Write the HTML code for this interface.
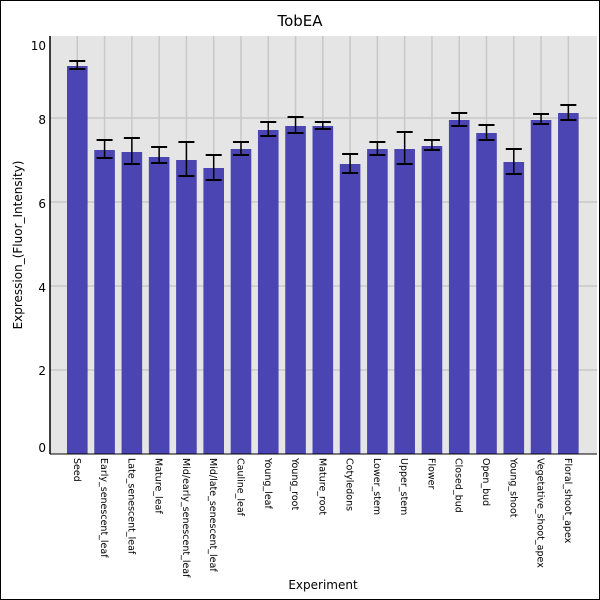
<!DOCTYPE html>
<html><head><meta charset="utf-8"><style>
html,body{margin:0;padding:0;background:#fff}
svg{display:block;font-family:"DejaVu Sans","Liberation Sans",sans-serif}
</style></head><body>
<svg width="600" height="600" viewBox="0 0 600 600" xmlns="http://www.w3.org/2000/svg">
<rect x="0.5" y="0.5" width="599" height="599" fill="#fff" stroke="#000"/>
<text x="300" y="26" text-anchor="middle" font-size="15">TobEA</text>
<rect x="50" y="36" width="547" height="418" fill="#e5e5e5"/>
<g id="grid" stroke="#c8c8c8" stroke-width="1.5"></g>
<g id="bars"></g>
<line x1="50" y1="36" x2="50" y2="454" stroke="#000" stroke-width="1.5"/>
<line x1="50" y1="454" x2="597" y2="454" stroke="#000" stroke-width="1"/>
<g font-size="12" text-anchor="end">
<text x="46" y="50">10</text>
<text x="46" y="124">8</text>
<text x="46" y="208">6</text>
<text x="46" y="292">4</text>
<text x="46" y="375">2</text>
<text x="46" y="452">0</text>
</g>
<text x="0" y="0" font-size="12" text-anchor="middle" transform="translate(22,245) rotate(-90)">Expression_(Fluor_Intensity)</text>
<text x="323" y="589" font-size="12" text-anchor="middle">Experiment</text>
<g id="labels" font-size="9.5"></g>
</svg>
<script>
var names=["Seed","Early_senescent_leaf","Late_senescent_leaf","Mature_leaf","Mid/early_senescent_leaf","Mid/late_senescent_leaf","Cauline_leaf","Young_leaf","Young_root","Mature_root","Cotyledons","Lower_stem","Upper_stem","Flower","Closed_bud","Open_bud","Young_shoot","Vegetative_shoot_apex","Floral_shoot_apex"];
var tops=[66,150,152,157,160,168,149,130,126,126,164,149,149,146,120,133,162,120,113];
var errs=[[61,69],[140,158],[138,164],[147,163],[142,176],[155,180],[142,155],[122,136],[117,133],[122,129],[154,173],[142,155],[132,164],[140,150],[113,126],[125,140],[149,174],[114,124],[105,120]];
var ns="http://www.w3.org/2000/svg";
function el(t,a,p){var e=document.createElementNS(ns,t);for(var k in a)e.setAttribute(k,a[k]);p.appendChild(e);return e;}
var g=document.getElementById("grid"),b=document.getElementById("bars"),l=document.getElementById("labels");
[118,202,286,370].forEach(function(y){el("line",{x1:50,x2:597,y1:y,y2:y},g);});
for(var i=0;i<19;i++){
 var cx=77.3+27.28*i;
 el("line",{x1:cx,x2:cx,y1:36,y2:454},g);
 el("rect",{x:cx-10.3,y:tops[i],width:20.6,height:454-tops[i],fill:"#4a45b2"},b);
 var e=errs[i];
 el("line",{x1:cx,x2:cx,y1:e[0],y2:e[1],stroke:"#000","stroke-width":1.5},b);
 el("line",{x1:cx-8,x2:cx+8,y1:e[0],y2:e[0],stroke:"#000","stroke-width":2},b);
 el("line",{x1:cx-8,x2:cx+8,y1:e[1],y2:e[1],stroke:"#000","stroke-width":2},b);
 var t=el("text",{x:0,y:0,transform:"translate("+(cx-3.5)+",458) rotate(90)"},l);
 t.textContent=names[i];
}
</script>
</body></html>
